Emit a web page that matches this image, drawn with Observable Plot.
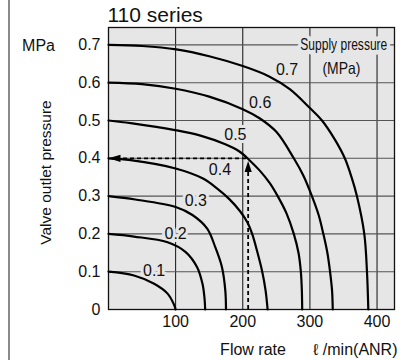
<!DOCTYPE html>
<html>
<head>
<meta charset="utf-8">
<script src="https://cdn.jsdelivr.net/npm/d3@7"></script>
<script src="https://cdn.jsdelivr.net/npm/@observablehq/plot@0.6"></script>
<style>
  html, body { margin: 0; padding: 0; background: #fff; }
  #wrap { position: relative; width: 408px; height: 360px; }
  #edge { position: absolute; left: 8px; top: 0; width: 2px; height: 360px; background: #8a8a8a; }
</style>
</head>
<body>
<div id="wrap"><div id="edge"></div></div>
<script>
// ---- data ----
const title = "110 series";
const xTicks = [100, 200, 300, 400];
const yTicks = [0, 0.1, 0.2, 0.3, 0.4, 0.5, 0.6, 0.7];
const supplyPressures = [0.1, 0.2, 0.3, 0.4, 0.5, 0.6, 0.7];

// flow rate (ℓ/min ANR) vs valve outlet pressure (MPa), one list per supply pressure
const curve01 = [[0,.100],[38,.090],[68,.068],[88,.042],[97,.015],[100,0]];
const curve02 = [[0,.200],[38,.193],[88,.178],[115,.152],[132,.112],[140,.068],[143,.030],[144,0]];
const curve03 = [[0,.300],[40,.291],[100,.271],[125,.250],[147,.214],[159,.165],[169,.112],[174,.050],[175,0]];
const curve04 = [[0,.400],[33,.395],[100,.373],[140,.347],[162,.320],[180,.292],[196,.260],[207,.230],[214,.200],[222,.150],[229,.100],[234,.050],[237,0]];
const curve05 = [[0,.500],[33,.493],[101,.474],[137,.460],[174,.437],[195,.418],[210,.395],[225,.368],[240,.335],[252,.300],[265,.255],[276,.200],[283,.150],[286.5,.100],[288,.050],[288.5,0]];
const curve06 = [[0,.600],[50,.596],[100,.584],[150,.563],[200,.530],[225,.506],[250,.470],[276,.400],[290,.355],[303,.300],[313,.250],[320,.200],[326,.150],[330,.100],[333,.050],[334,0]];
const curve07 = [[0,.700],[50,.697],[101,.688],[150,.670],[200,.644],[240,.616],[270,.583],[300,.533],[318,.500],[337,.450],[352,.400],[362,.350],[370,.300],[381,.200],[385,.100],[387,0]];
const curves = [curve01, curve02, curve03, curve04, curve05, curve06, curve07];

// where each supply-pressure label sits (flow, pressure)
const labelFlows = [68, 100, 130, 166, 189, 226, 266];
const labelPressures = [0.103, 0.200, 0.287, 0.370, 0.461, 0.547, 0.633];

const legendTitle = "Supply pressure";
const legendUnit = "(MPa)";
const legendFlows = [350.5, 347];
const legendPressures = [0.700, 0.638];

// example reading (dashed arrows)
const readFlow = 208;
const readPressure = 0.4;

const yLabel = "Valve outlet pressure";
const yUnit = "MPa";
const xLabel = "Flow rate";
const xUnit = "ℓ /min(ANR)";

// ---- build tables ----
const lineRows = curves.flatMap((c, i) => c.map(([f, p]) => ({flow: f, p, supply: supplyPressures[i]})));
const labelRows = supplyPressures.map((s, i) => ({flow: labelFlows[i], p: labelPressures[i], text: s.toFixed(1)}));
const legendRows = [
  {flow: legendFlows[0], p: legendPressures[0], text: legendTitle},
  {flow: legendFlows[1], p: legendPressures[1], text: legendUnit}
];

const BG = "#e6e6e6";
const FONT = "'Liberation Sans', Arial, Helvetica, sans-serif";
const upHead = {draw(ctx) { ctx.moveTo(0, 0); ctx.lineTo(-3.6, 11); ctx.lineTo(3.6, 11); ctx.closePath(); }};
const leftHead = {draw(ctx) { ctx.moveTo(0, 0); ctx.lineTo(12, -3.6); ctx.lineTo(12, 3.6); ctx.closePath(); }};

const chart = Plot.plot({
  width: 408,
  height: 360,
  marginLeft: 108,
  marginRight: 14,
  marginTop: 27,
  marginBottom: 51,
  x: {domain: [0, 426], label: null},
  y: {domain: [0, 0.746], label: null},
  style: {fontFamily: FONT, fontSize: "16px", color: "#111", background: "transparent"},
  marks: [
    Plot.frame({fill: BG, stroke: null}),
    Plot.ruleX(xTicks, {stroke: "#111", strokeWidth: 1}),
    Plot.ruleY(yTicks.filter(d => d > 0), {stroke: "#555", strokeWidth: 1.1}),
    Plot.frame({stroke: "#111", strokeWidth: 1.3}),
    Plot.axisX(xTicks, {tickSize: 0, tickPadding: 6, fontSize: 16}),
    Plot.axisY(yTicks, {tickSize: 0, tickPadding: 8, fontSize: 16, tickFormat: d => d === 0 ? "0" : d.toFixed(1)}),
    // curve labels with background halo
    Plot.text(labelRows, {x: "flow", y: "p", text: "text", fill: "#111", stroke: BG, strokeWidth: 6, fontSize: 16}),
    Plot.text(legendRows, {x: "flow", y: "p", text: "text", fill: "#111", stroke: BG, strokeWidth: 9, fontSize: 16.5}),
    // curves
    Plot.line(lineRows, {x: "flow", y: "p", z: "supply", curve: "catmull-rom", stroke: "#000", strokeWidth: 2.2}),
    // dashed reading arrows
    Plot.ruleX([readFlow], {y1: 0, y2: readPressure - 0.03, stroke: "#000", strokeWidth: 1.8, strokeDasharray: "4,3"}),
    Plot.ruleY([readPressure], {x1: 12, x2: readFlow, stroke: "#000", strokeWidth: 1.8, strokeDasharray: "4,3"}),
    Plot.dot([[readFlow, readPressure - 0.007]], {x: d => d[0], y: d => d[1], symbol: upHead, fill: "#000", stroke: null, r: 4}),
    Plot.dot([[0, readPressure]], {x: d => d[0], y: d => d[1], symbol: leftHead, fill: "#000", stroke: null, r: 4}),
    // title and axis labels
    Plot.text([title], {frameAnchor: "top-left", textAnchor: "start", lineAnchor: "bottom", dx: -1, dy: -6, fontSize: 21, fill: "#111"}),
    Plot.text([yUnit], {frameAnchor: "top-left", textAnchor: "middle", lineAnchor: "middle", dx: -70, dy: 18.5, fontSize: 16, fill: "#111"}),
    Plot.text([yLabel], {frameAnchor: "left", textAnchor: "middle", lineAnchor: "middle", rotate: -90, dx: -62, dy: 4, fontSize: 15.5, fill: "#111"}),
    Plot.text([xLabel], {frameAnchor: "bottom-left", textAnchor: "middle", lineAnchor: "middle", dx: 144.5, dy: 40, fontSize: 16, fill: "#111"}),
    Plot.text([xUnit], {frameAnchor: "bottom-right", textAnchor: "end", lineAnchor: "middle", dx: 3, dy: 40, fontSize: 16, fill: "#111"})
  ]
});
// condensed lettering of the legend note, as in the reference
const legendWidths = {[legendTitle]: 87, [legendUnit]: 38};
d3.select(chart).selectAll("text").filter(function () { return this.textContent in legendWidths; })
  .attr("textLength", function () { return legendWidths[this.textContent]; })
  .attr("lengthAdjust", "spacingAndGlyphs");
chart.style.position = "absolute";
chart.style.left = "0";
chart.style.top = "0";
document.getElementById("wrap").appendChild(chart);
</script>
</body>
</html>
